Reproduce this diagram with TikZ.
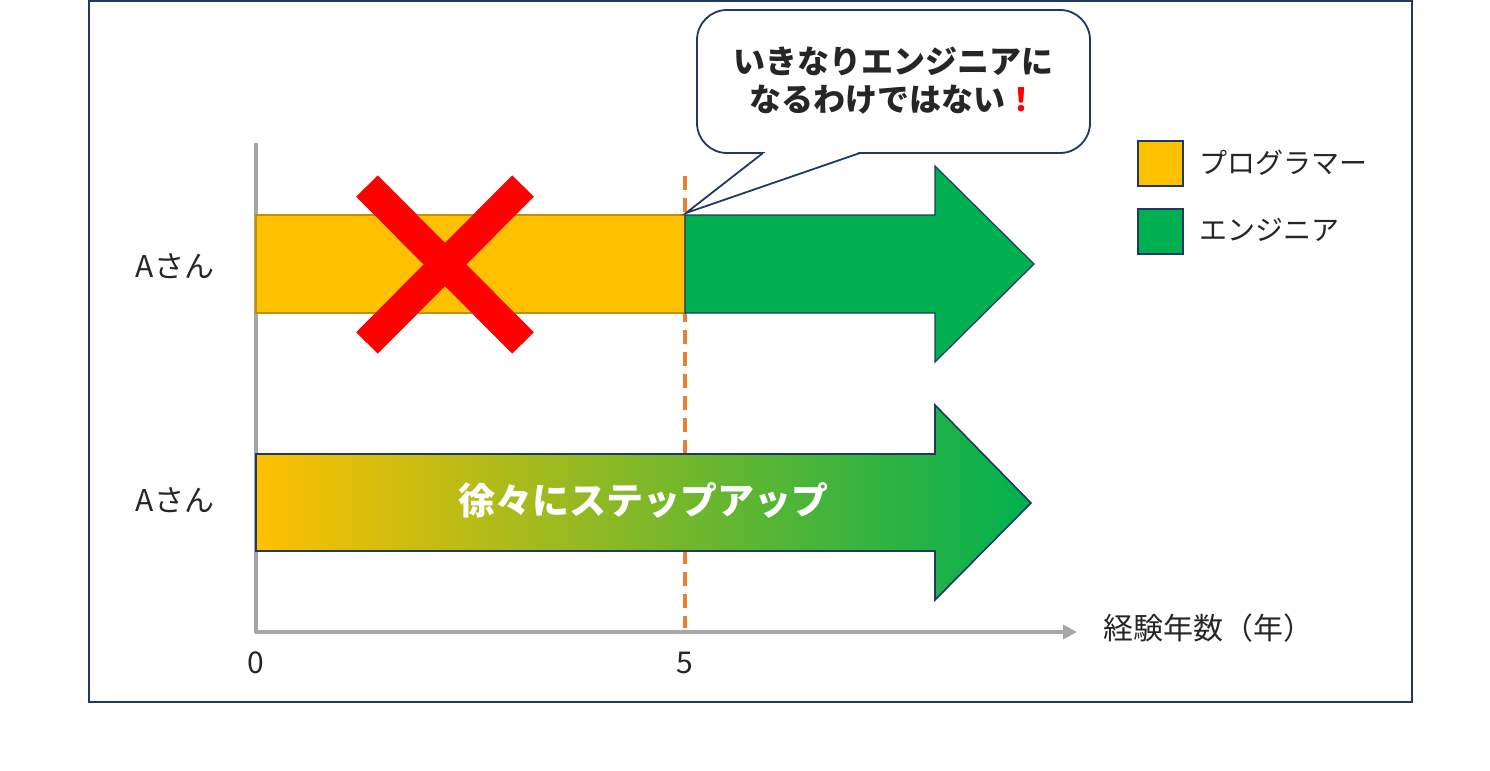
\documentclass[tikz,border=0pt]{standalone}
\usepackage{fontspec}
\setmainfont{Noto Sans CJK JP}
\usetikzlibrary{arrows.meta}
\definecolor{navy}{HTML}{203864}
\definecolor{org}{HTML}{FFC000}
\definecolor{orgline}{HTML}{BF9000}
\definecolor{grn}{HTML}{00B050}
\definecolor{dashorange}{HTML}{ED7D31}
\definecolor{axgray}{HTML}{A6A6A6}
\definecolor{txt}{HTML}{262626}
\tikzset{
  lbl/.style={text=txt, inner sep=0pt, font=\fontsize{15}{18}\selectfont},
  legbox/.style={draw=navy, line width=1pt, minimum size=22.5pt, inner sep=0pt},
  redx/.style={draw={rgb,255:red,255;green,0;blue,0}, line width=15.2pt},
}
\begin{document}
\begin{tikzpicture}[x=0.5pt,y=-0.5pt]
\useasboundingbox (0,0) rectangle (1490,771);
% frame
\draw[navy, line width=1.1pt] (89,1.2) rectangle (1412,702);
% dashed line at year 5
\draw[dashorange, line width=1.8pt, dash pattern=on 7pt off 4pt] (685,176) -- (685,628);
% axes
\draw[axgray, line width=2pt] (256,143) -- (256,633);
\draw[axgray, line width=2pt, -{Triangle[length=7pt,width=7pt]}] (255,632) -- (1077,632);
% bar 1
\draw[fill=org, draw=orgline, line width=0.6pt] (256,215) rectangle (685,313);
\draw[fill=grn, draw=navy, line width=0.6pt] (685,215) -- (935,215) -- (935,166) -- (1034,264) -- (935,362) -- (935,313) -- (685,313) -- cycle;
% red cross
\draw[redx] (367,186) -- (523,343);
\draw[redx] (523,186) -- (367,343);
% bar 2 gradient arrow
\draw[draw=navy, line width=0.8pt, left color=org, right color=grn] (256,454) -- (935,454) -- (935,405) -- (1031,503) -- (935,600) -- (935,551) -- (256,551) -- cycle;
\node[text=white, inner sep=0pt, font=\fontsize{18.5}{22}\selectfont\bfseries] (step) at (643,500) {徐々にステップアップ};
% labels
\node[lbl] (a1) at (175,266) {Aさん};
\node[lbl] (a2) at (175,500) {Aさん};
\node[lbl] (x0) at (256,663) {0};
\node[lbl] (x5) at (685,663) {5};
\node[lbl, anchor=west] (xl) at (1103,628) {経験年数（年）};
% legend
\node[legbox, fill=org] (lgo) at (1160,163.5) {};
\node[legbox, fill=grn] (lgg) at (1160,231) {};
\node[lbl, anchor=west, font=\fontsize{14}{17}\selectfont] (lgot) at (1199,163) {プログラマー};
\node[lbl, anchor=west, font=\fontsize{14}{17}\selectfont] (lggt) at (1199,230) {エンジニア};
% callout
\node[draw=navy, line width=0.9pt, fill=white, rounded corners=15pt, minimum width=196.5pt, minimum height=71.5pt, inner sep=0pt] (call) at (893.5,81.5) {};
\coordinate (tip) at (686,213);
\fill[white] (763,153) -- (tip) -- (860,153) -- cycle;
\fill[white] (765,149) rectangle (858,156);
\draw[navy, line width=0.9pt] (763,153) -- (tip) -- (860,153);
\node[align=center, text=txt, inner sep=0pt, font=\fontsize{16}{19}\selectfont\bfseries] (ct) at (893,81) {いきなりエンジニアに\\なるわけではない{\color{red}！}};
\end{tikzpicture}
\end{document}
